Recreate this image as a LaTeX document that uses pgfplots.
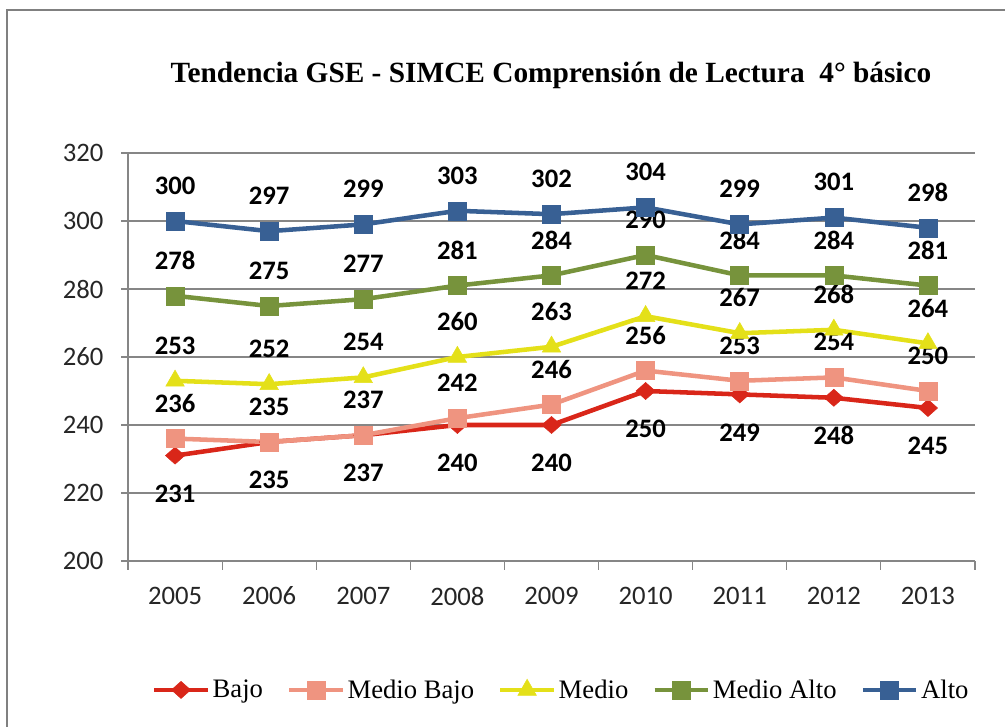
\documentclass[border=0pt]{standalone}
\usepackage{pgfplots}
\pgfplotsset{compat=1.18}
\usepackage{fontspec}
\setmainfont{Liberation Serif}
\newfontfamily\calibri{Carlito}

\definecolor{bajo}{RGB}{217,38,25}
\definecolor{mediobajo}{RGB}{239,148,128}
\definecolor{medio}{RGB}{228,224,25}
\definecolor{medioalto}{RGB}{119,147,60}
\definecolor{alto}{RGB}{56,96,148}
\definecolor{gridgray}{RGB}{134,134,134}
\definecolor{framegray}{RGB}{128,128,128}

\begin{document}
\begin{tikzpicture}[x=1pt,y=1pt]
\useasboundingbox (0,0) rectangle (753.75,545.25);
\draw[framegray, line width=1.8pt] (5.25,0) -- (5.25,537.75) -- (753.75,537.75);
\node[anchor=base, inner sep=0pt, font=\bfseries\fontsize{22}{26}\selectfont]
  at (413.25,483) {Tendencia GSE - SIMCE Comprensión de Lectura~~4° básico};

\begin{axis}[
    at={(96pt,124.5pt)}, anchor=south west,
    scale only axis, width=635.25pt, height=306pt,
    clip=false,
    xmin=-0.5, xmax=8.5, ymin=200, ymax=320,
    xtick={0,...,8},
    xticklabels={2005,2006,2007,2008,2009,2010,2011,2012,2013},
    minor xtick={-0.5,0.5,...,8.5},
    ytick={200,220,...,320},
    axis x line*=bottom, axis y line*=left,
    axis line style={gridgray, line width=1.1pt, -},
    ymajorgrids, grid style={gridgray, line width=0.9pt},
    tick align=outside,
    major tick length=5.25pt, minor tick length=6.75pt,
    tick style={gridgray, line width=0.9pt},
    major x tick style={draw=none},
    /pgf/number format/assume math mode=true,
    tick label style={font=\calibri\fontsize{20}{20}\selectfont, text=black!85},
    yticklabel style={inner sep=0pt, xshift=-13pt},
    xticklabel style={inner sep=0pt, yshift=-14pt},
    every node near coord/.append style={anchor=center, text=black,
        font=\calibri\bfseries\fontsize{20}{20}\selectfont},
    legend columns=5,
    legend style={at={(axis description cs:0.512,-0.316)}, anchor=center,
        draw=none, fill=none, font=\fontsize{20}{24}\selectfont,
        nodes={inner sep=2pt},
        /tikz/every even column/.append style={column sep=16pt}},
    legend image code/.code={\draw[mark repeat=2, mark phase=2]
        plot coordinates {(0pt,0pt) (20pt,0pt) (40pt,0pt)};},
]
\addplot[bajo, line width=3.4pt, mark=diamond*, mark size=6.4pt,
    mark options={solid, line width=0.4pt, xscale=1.5},
    nodes near coords, every node near coord/.append style={yshift=-28.5pt}]
    coordinates {(0,231) (1,235) (2,237) (3,240) (4,240) (5,250) (6,249) (7,248) (8,245)};
\addlegendentry{Bajo}
\addplot[mediobajo, line width=3.4pt, mark=square*, mark size=6.75pt,
    mark options={solid, line width=0.4pt},
    nodes near coords, every node near coord/.append style={yshift=26.5pt}]
    coordinates {(0,236) (1,235) (2,237) (3,242) (4,246) (5,256) (6,253) (7,254) (8,250)};
\addlegendentry{Medio Bajo}
\addplot[medio, line width=3.4pt, mark=triangle*, mark size=8pt,
    mark options={solid, line width=0.4pt},
    nodes near coords, every node near coord/.append style={yshift=26.5pt}]
    coordinates {(0,253) (1,252) (2,254) (3,260) (4,263) (5,272) (6,267) (7,268) (8,264)};
\addlegendentry{Medio}
\addplot[medioalto, line width=3.4pt, mark=square*, mark size=6.75pt,
    mark options={solid, line width=0.4pt},
    nodes near coords, every node near coord/.append style={yshift=26.5pt}]
    coordinates {(0,278) (1,275) (2,277) (3,281) (4,284) (5,290) (6,284) (7,284) (8,281)};
\addlegendentry{Medio Alto}
\addplot[alto, line width=3.4pt, mark=square*, mark size=6.75pt,
    mark options={solid, line width=0.4pt},
    nodes near coords, every node near coord/.append style={yshift=26.5pt}]
    coordinates {(0,300) (1,297) (2,299) (3,303) (4,302) (5,304) (6,299) (7,301) (8,298)};
\addlegendentry{Alto}
\end{axis}
\end{tikzpicture}
\end{document}
